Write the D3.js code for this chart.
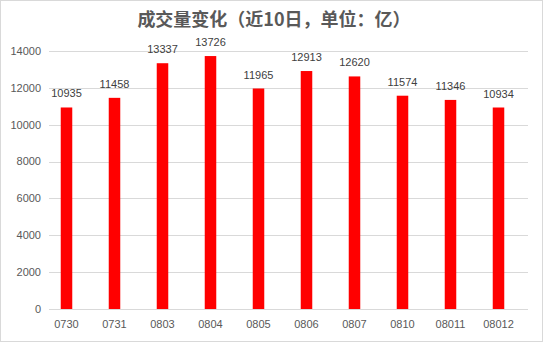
<!DOCTYPE html>
<html>
<head>
<meta charset="utf-8">
<script src="https://cdn.jsdelivr.net/npm/d3@7"></script>
<style>
  body { margin: 0; background: #fff; }
  svg { display: block; }
</style>
</head>
<body>
<svg id="chart"></svg>
<script>
// data
const categories = ["0730", "0731", "0803", "0804", "0805", "0806", "0807", "0810", "08011", "08012"];
const volumes = [10935, 11458, 13337, 13726, 11965, 12913, 12620, 11574, 11346, 10934];
const yTicks = [0, 2000, 4000, 6000, 8000, 10000, 12000, 14000];

const width = 543;
const height = 342;
const font = "'Liberation Sans', Arial, sans-serif";

const svg = d3.select("#chart")
  .attr("width", width)
  .attr("height", height);

// chart border
svg.append("rect")
  .attr("x", 0.5).attr("y", 0.5)
  .attr("width", width - 1).attr("height", height - 1)
  .attr("fill", "#fff")
  .attr("stroke", "#d9d9d9");

const x = d3.scaleBand()
  .domain(categories)
  .range([42.5, 522.5])
  .paddingInner(0.76)
  .paddingOuter(0.38);

const y = d3.scaleLinear()
  .domain([0, 14000])
  .range([309, 51]);

// gridlines
svg.append("g")
  .selectAll("line")
  .data(yTicks)
  .enter()
  .append("line")
  .attr("x1", 49)
  .attr("x2", 528)
  .attr("y1", d => Math.round(y(d)) + 0.5)
  .attr("y2", d => Math.round(y(d)) + 0.5)
  .attr("stroke", "#d9d9d9")
  .attr("stroke-width", 1);

// y labels
svg.append("g")
  .selectAll("text")
  .data(yTicks)
  .enter()
  .append("text")
  .attr("x", 41)
  .attr("y", d => y(d))
  .attr("dy", "0.35em")
  .attr("text-anchor", "end")
  .style("font-family", font)
  .style("font-size", "11px")
  .style("fill", "#595959")
  .text(d => d);

// bars
svg.append("g")
  .selectAll("rect")
  .data(volumes)
  .enter()
  .append("rect")
  .attr("x", (d, i) => x(categories[i]))
  .attr("y", d => y(d))
  .attr("width", x.bandwidth())
  .attr("height", d => y(0) - y(d))
  .attr("fill", "#ff0000");

// value labels
svg.append("g")
  .selectAll("text")
  .data(volumes)
  .enter()
  .append("text")
  .attr("x", (d, i) => x(categories[i]) + x.bandwidth() / 2)
  .attr("y", d => y(d) - 10)
  .attr("text-anchor", "middle")
  .style("font-family", font)
  .style("font-size", "11px")
  .style("fill", "#404040")
  .text(d => d);

// category labels
svg.append("g")
  .selectAll("text")
  .data(categories)
  .enter()
  .append("text")
  .attr("x", d => x(d) + x.bandwidth() / 2)
  .attr("y", 327.5)
  .attr("text-anchor", "middle")
  .style("font-family", font)
  .style("font-size", "11px")
  .style("fill", "#595959")
  .text(d => d);

// title
svg.append("text")
  .attr("x", 274)
  .attr("y", 26)
  .attr("text-anchor", "middle")
  .style("font-family", "'Noto Sans CJK SC', sans-serif")
  .style("font-size", "18px")
  .style("font-weight", "bold")
  .style("fill", "#595959")
  .text("成交量变化（近10日，单位：亿）");
</script>
</body>
</html>
